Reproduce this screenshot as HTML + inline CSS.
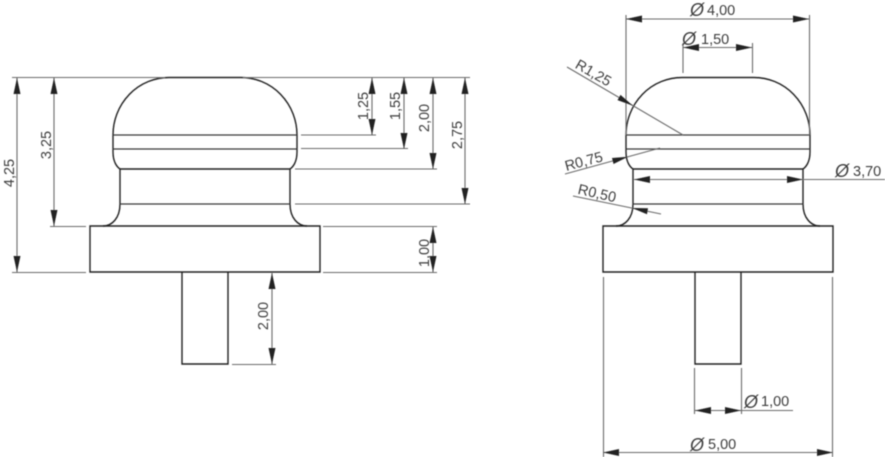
<!DOCTYPE html>
<html><head><meta charset="utf-8">
<style>
html,body{margin:0;padding:0;background:#fff;width:886px;height:460px;overflow:hidden}
svg{display:block}
text{font-family:"Liberation Sans",sans-serif;font-size:14.5px;fill:#3e3e3e}
.d{stroke:#6a6a6a;stroke-width:1.1;fill:none}
.o{stroke:#222;stroke-width:1.4;fill:none}
.i{stroke:#3a3a3a;stroke-width:1.3;fill:none}
.a{fill:#222;stroke:none}
.p{font-style:italic;font-size:18px}
</style></head><body>
<svg width="886" height="460" viewBox="0 0 886 460" xmlns="http://www.w3.org/2000/svg">
<defs><filter id="b" x="0" y="0" width="100%" height="100%"><feGaussianBlur stdDeviation="0.5"/></filter></defs>
<g filter="url(#b)">
<!-- LEFT VIEW -->
<g>
<path class="o" d="M103 226C112 226 120 218 120 204V169C117 167 113 162 113 152V135A56 57.500 0 0 1 169 77.500H241A56 57.500 0 0 1 297 135V152C297 162 293 167 290 169V204C290 218 298 226 307 226"/>
<path class="o" d="M90 226H320V272H90Z"/>
<path class="o" d="M182 272V364H228V272"/>
<path class="i" d="M113 135H297M113 149H297"/>
<path class="o" d="M120 169H290"/>
<path class="i" d="M120 204H290"/>
</g>
<path class="d" d="M12 77.500H165M243 77.500H470M50 226.500H86M12 272.500H86"/>
<path class="d" d="M17 78V272M54 78V226"/>
<path class="d" d="M301 135H376M301 148.500H408M295 169H437M295 204H470M323 226.500H437M323 272.500H437M232 364.500H276"/>
<path class="d" d="M372 78V135M404 78V149M433 78V169M465 78V204M433 227V272M272 273V364"/>
<path class="a" d="M17 78l-3.500 16h7zM17 272l-3.500-16h7zM54 78l-3.500 16h7zM54 226l-3.500-16h7z"/>
<path class="a" d="M372 78l-3.500 16h7zM372 135l-3.500-16h7zM404 78l-3.500 16h7zM404 149l-3.500-16h7zM433 78l-3.500 16h7zM433 169l-3.500-16h7zM465 78l-3.500 16h7zM465 204l-3.500-16h7z"/>
<path class="a" d="M433 227l-3.500 16h7zM433 272l-3.500-16h7zM272 273l-3.500 16h7zM272 364l-3.500-16h7z"/>
<g text-anchor="middle">
<text transform="translate(14,173) rotate(-90)">4,25</text>
<text transform="translate(51,145) rotate(-90)">3,25</text>
<text transform="translate(368,106) rotate(-90)">1,25</text>
<text transform="translate(400,106) rotate(-90)">1,55</text>
<text transform="translate(429,118) rotate(-90)">2,00</text>
<text transform="translate(462,135) rotate(-90)">2,75</text>
<text transform="translate(429,253) rotate(-90)">1,00</text>
<text transform="translate(268,316) rotate(-90)">2,00</text>
</g>
<!-- RIGHT VIEW -->
<g>
<path class="o" d="M616 226C625 226 633 218 633 204V169C630 167 626 162 626 152V135A56 57.500 0 0 1 682 77.500H754A56 57.500 0 0 1 810 135V152C810 162 806 167 803 169V204C803 218 811 226 820 226"/>
<path class="o" d="M603 226H833V272H603Z"/>
<path class="o" d="M695 272V364H741V272"/>
<path class="i" d="M626 135H810M626 149H810"/>
<path class="o" d="M633 169H803"/>
<path class="i" d="M633 204H803"/>
</g>
<path class="d" d="M626 15V135M809.500 15V135M683 43V73M752.500 43V73"/>
<path class="d" d="M626 19H809M683 47.500H752M634 179.500H885M603 452.500H833M695 410.500H793"/>
<path class="d" d="M603.500 277V457M832.500 277V457M694.500 368V414M741.500 368V414"/>
<path class="d" d="M567 67L683 135M565 174L660 148M573 196L661 214"/>
<path class="a" d="M626 19l16-3.500v7zM809 19l-16-3.500v7zM683 47.500l16-3.500v7zM752 47.500l-16-3.500v7zM634 179.500l16-3.500v7zM803 179.500l-16-3.500v7z"/>
<path class="a" d="M603 452.500l16-3.500v7zM833 452.500l-16-3.500v7zM695 410.500l16-3.500v7zM741 410.500l-16-3.500v7z"/>
<path class="a" d="M633 105.700L620.500 94.900L617.500 100.100ZM628 156.700L612 158L613.500 164ZM632 208L648 208.300L647 214.300Z"/>
<text class="p" x="690" y="16">Ø</text><text x="707" y="15">4,00</text>
<text class="p" x="682" y="45">Ø</text><text x="701" y="44">1,50</text>
<text class="p" x="835" y="177">Ø</text><text x="853" y="176">3,70</text>
<text class="p" x="744" y="408">Ø</text><text x="761" y="406">1,00</text>
<text class="p" x="690" y="451">Ø</text><text x="708" y="449">5,00</text>
<g text-anchor="middle">
<text transform="translate(591,77) rotate(30)">R1,25</text>
<text transform="translate(585,166) rotate(-15)">R0,75</text>
<text transform="translate(596,198) rotate(13)">R0,50</text>
</g>
</g>
</svg>
</body></html>
